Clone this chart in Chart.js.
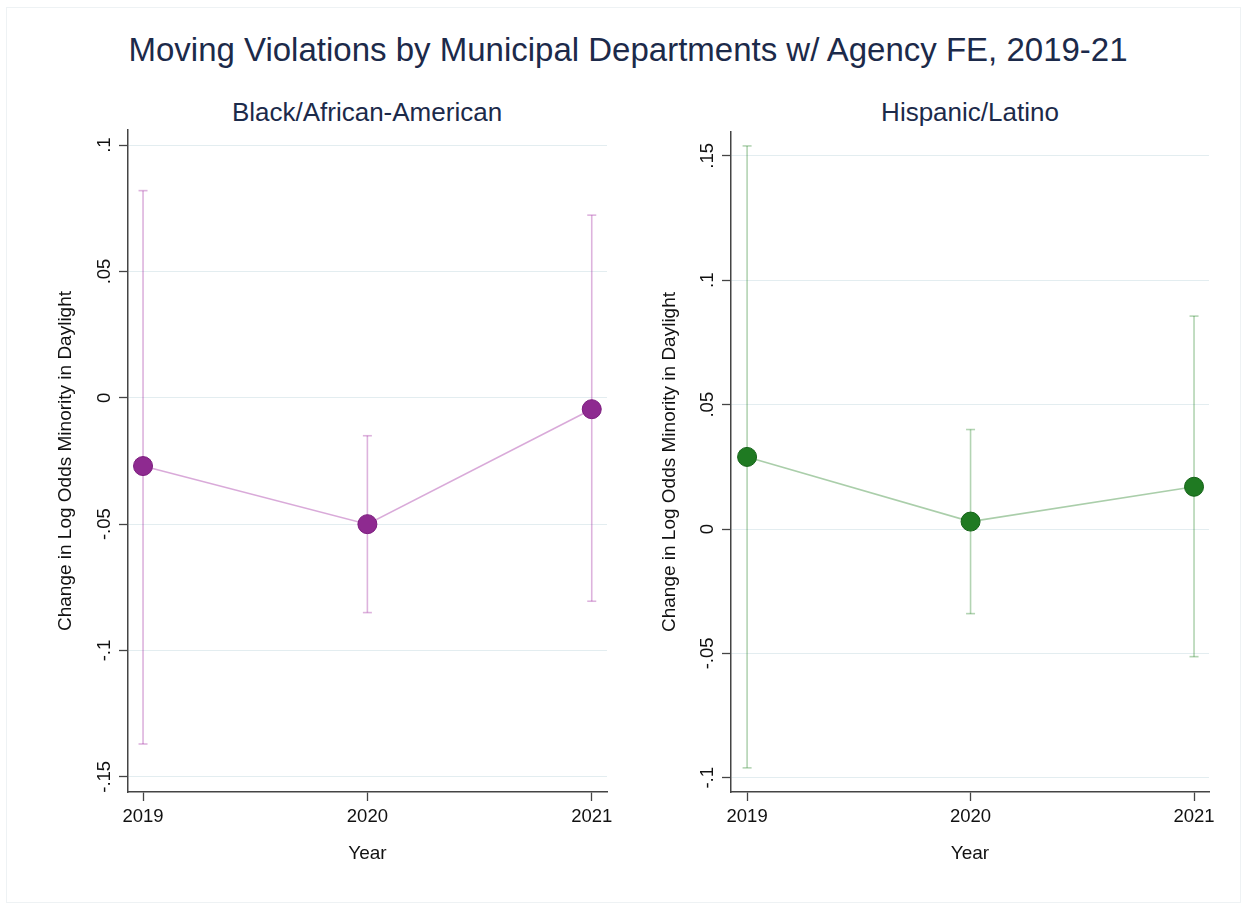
<!DOCTYPE html>
<html><head><meta charset="utf-8">
<script src="https://cdn.jsdelivr.net/npm/chart.js@4.4.1/dist/chart.umd.min.js"></script>
<style>
html,body{margin:0;padding:0;background:#fff;}
body{width:1247px;height:909px;position:relative;overflow:hidden;font-family:"Liberation Sans",Arial,sans-serif;}
#frame{position:absolute;left:6px;top:7px;width:1235px;height:896px;border:1px solid #eef2f4;box-sizing:border-box;}
.t{position:absolute;white-space:nowrap;transform:translate(-50%,-50%);color:#1c2a4a;line-height:1;}
#c1{position:absolute;left:0;top:0;}
#c2{position:absolute;left:620px;top:0;}
</style></head><body>
<div id="frame"></div>
<div class="t" style="left:628px;top:49px;font-size:33px">Moving Violations by Municipal Departments w/ Agency FE, 2019-21</div>
<div class="t" style="left:367px;top:112px;font-size:26px">Black/African-American</div>
<div class="t" style="left:970px;top:112px;font-size:26px">Hispanic/Latino</div>
<canvas id="c1" width="620" height="909"></canvas>
<canvas id="c2" width="627" height="909"></canvas>
<script>
// ---- data ----
const years = [2019, 2020, 2021];
const blackEst = [-0.027, -0.050, -0.0045];
const blackLo  = [-0.137, -0.085, -0.0805];
const blackHi  = [0.082, -0.015, 0.0723];
const hispEst  = [0.029, 0.003, 0.017];
const hispLo   = [-0.096, -0.034, -0.0513];
const hispHi   = [0.154, 0.040, 0.0856];
const blackTickVals = [0.1, 0.05, 0, -0.05, -0.1, -0.15];
const blackTickLabels = [".1", ".05", "0", "-.05", "-.1", "-.15"];
const hispTickVals = [0.15, 0.1, 0.05, 0, -0.05, -0.1];
const hispTickLabels = [".15", ".1", ".05", "0", "-.05", "-.1"];
const yTitle = "Change in Log Odds Minority in Daylight";
const xTitle = "Year";

const FAM = '"Liberation Sans", Arial, sans-serif';
const AXIS = '#444';

function makeChart(canvas, cfg) {
  const pts = years.map((x, i) => ({x: x, y: cfg.est[i]}));
  const ci = [];
  years.forEach((x, i) => {
    ci.push({x: x, y: cfg.lo[i]});
    ci.push({x: x, y: cfg.hi[i]});
    ci.push({x: x, y: null});
  });
  return new Chart(canvas, {
    type: 'line',
    data: {
      datasets: [
        {
          data: pts, order: 0,
          borderColor: cfg.lineColor, borderWidth: 1.6,
          pointRadius: 9.5, pointBackgroundColor: cfg.ptColor,
          pointBorderColor: cfg.ptBorder, pointBorderWidth: 1,
          tension: 0
        },
        {
          data: ci, order: 1, spanGaps: false,
          borderColor: cfg.ciColor, borderWidth: 1.6,
          pointStyle: 'line', pointRadius: 4.5,
          pointBorderColor: cfg.ciColor, pointBorderWidth: 1.6,
          pointBackgroundColor: cfg.ciColor
        }
      ]
    },
    options: {
      responsive: false, animation: false, events: [],
      devicePixelRatio: 1,
      layout: {padding: cfg.pad},
      plugins: {legend: {display: false}, tooltip: {enabled: false}, title: {display: false}},
      scales: {
        x: {
          type: 'linear', min: cfg.xmin, max: cfg.xmax,
          afterBuildTicks: s => { s.ticks = years.map(v => ({value: v})); },
          afterFit: s => { s.height = cfg.xHeight; },
          ticks: {autoSkip: false, minRotation: 0, maxRotation: 0, padding: 5, color: '#111',
                  font: {size: 18.5, family: FAM}, callback: v => String(v)},
          grid: {drawOnChartArea: false, drawTicks: true, tickLength: 9, tickColor: AXIS, tickWidth: 1.3},
          border: {display: true, color: AXIS, width: 1.5},
          title: {display: true, text: xTitle, color: '#111', font: {size: 19, family: FAM},
                  padding: {top: 0, bottom: 43.6}}
        },
        y: {
          type: 'linear', min: cfg.ymin, max: cfg.ymax,
          afterBuildTicks: s => { s.ticks = cfg.tickVals.map(v => ({value: v})); },
          afterFit: s => { s.width = cfg.yWidth; },
          ticks: {autoSkip: false, minRotation: 90, maxRotation: 90, crossAlign: 'center', padding: -2,
                  color: '#111', font: {size: 18.5, family: FAM},
                  callback: v => {
                    const k = cfg.tickVals.findIndex(t => Math.abs(t - v) < 1e-9);
                    return k >= 0 ? cfg.tickLabels[k] : '';
                  }},
          grid: {color: '#e3edf0', lineWidth: 1, drawTicks: true, tickLength: 9, tickColor: AXIS, tickWidth: 1.3},
          border: {display: true, color: AXIS, width: 1.5},
          title: {display: true, text: yTitle, color: '#111', font: {size: 19, family: FAM},
                  padding: {top: cfg.yTitlePad, bottom: 0}}
        }
      }
    }
  });
}

makeChart(document.getElementById('c1'), {
  est: blackEst, lo: blackLo, hi: blackHi,
  tickVals: blackTickVals, tickLabels: blackTickLabels,
  xmin: 2018.933, xmax: 2021.068, ymin: -0.156, ymax: 0.106,
  pad: {top: 130, right: 13, bottom: 0, left: 0},
  xHeight: 117, yWidth: 128, yTitlePad: 54,
  lineColor: 'rgba(150,20,150,0.36)', ciColor: 'rgba(150,20,150,0.32)',
  ptColor: '#8e2a90', ptBorder: '#7c1c7e'
});

makeChart(document.getElementById('c2'), {
  est: hispEst, lo: hispLo, hi: hispHi,
  tickVals: hispTickVals, tickLabels: hispTickLabels,
  xmin: 2018.928, xmax: 2021.067, ymin: -0.1057, ymax: 0.1596,
  pad: {top: 132, right: 38, bottom: 0, left: 0},
  xHeight: 117, yWidth: 111, yTitlePad: 38.6,
  lineColor: 'rgba(20,120,20,0.36)', ciColor: 'rgba(20,120,20,0.32)',
  ptColor: '#1f7a22', ptBorder: '#156318'
});
</script>
</body></html>
